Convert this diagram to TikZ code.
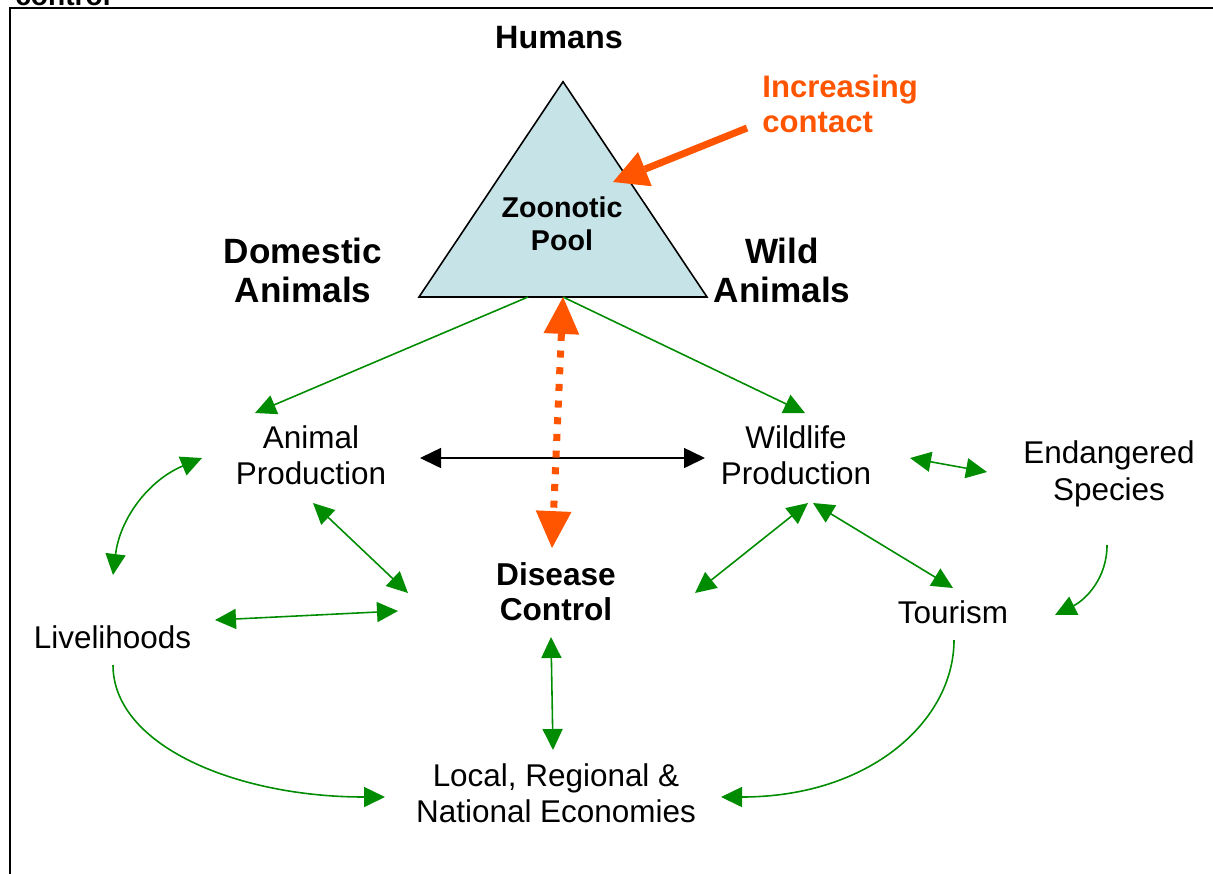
\documentclass[tikz,border=0pt]{standalone}
\usepackage{fontspec}
\setmainfont{Liberation Sans}
\usepackage{tikz}
\usetikzlibrary{arrows.meta}
\definecolor{leafgreen}{RGB}{0, 140, 0}
\definecolor{contactorange}{RGB}{255, 85, 0}
\definecolor{poolblue}{RGB}{198, 228, 232}

\begin{document}
\begin{tikzpicture}[x=0.02cm, y=-0.02cm,
        >={Triangle[length=0.42cm, width=0.40cm]},
        txtnode/.style={align=center, inner sep=0pt, font=\fontsize{17.9}{21}\selectfont},
        headnode/.style={align=center, inner sep=0pt, font=\bfseries\fontsize{20}{22.7}\selectfont},
        link/.style={draw=leafgreen, line width=0.9pt},
        bigtip/.style={line width=4pt, draw=contactorange}]
    \useasboundingbox (0,0) rectangle (1213,873);
    % frame and the cut caption above it
    \draw[line width=1.1pt] (10,880) -- (10,8) -- (1220,8);
    \node[anchor=base west, inner sep=0pt, font=\bfseries\fontsize{16}{19}\selectfont] (cap) at (15,5) {control};

    % zoonotic pool
    \coordinate (apex) at (563,81.7);
    \coordinate (bl)   at (419,297);
    \coordinate (br)   at (707,297);
    \coordinate (tri-a) at (528,297);
    \coordinate (tri-b) at (563,297);
    \filldraw[fill=poolblue, draw=black, line width=0.9pt] (apex) -- (bl) -- (br) -- cycle;
    \node[align=center, inner sep=0pt, font=\bfseries\fontsize{16.3}{19.3}\selectfont] (pool) at (562,223.8) {Zoonotic\\Pool};

    \node[anchor=base, inner sep=0pt, font=\bfseries\fontsize{18.4}{22}\selectfont] (hum) at (559,48) {Humans};
    \node[headnode] (dom)  at (303,270.4) {Domestic\\Animals};
    \node[headnode] (wild) at (782,270.4) {Wild\\Animals};
    \node[anchor=west, align=left, inner sep=0pt, text=contactorange,
          font=\bfseries\fontsize{17.7}{20.4}\selectfont] (inc) at (762,103.8) {Increasing\\contact};

    % production and economy nodes
    \node[txtnode] (ap)   at (311,455.2)  {Animal\\Production};
    \node[txtnode] (wp)   at (796,455.2)  {Wildlife\\Production};
    \node[txtnode] (es)   at (1109,473.5) {Endangered\\Species};
    \node[txtnode, anchor=base] (tour) at (953,623)   {Tourism};
    \node[txtnode, anchor=base] (liv)  at (112.5,648) {Livelihoods};
    \node[txtnode] (econ) at (556,793.2)  {Local, Regional \&\\National Economies};
    \node[align=center, inner sep=0pt, font=\bfseries\fontsize{18}{20.4}\selectfont] (dc) at (556,591.7) {Disease\\Control};

    % green links
    \draw[link, ->] (tri-a) -- ([shift={(-56,-42.2)}]ap.center);
    \draw[link, ->] (tri-b) -- ([shift={(9,-42.2)}]wp.center);
    \draw[link, <->] ([shift={(-109,2.8)}]ap.center) .. controls +(-53,22) and +(7,-57) .. ([shift={(0.5,-73)}]liv.base);
    \draw[link, <->] ([shift={(2,47.8)}]ap.center) -- ([shift={(-148,1.3)}]dc.center);
    \draw[link, <->] ([shift={(102.5,-28)}]liv.base) -- ([shift={(-158,19.3)}]dc.center);
    \draw[link, <->] ([shift={(12,47.8)}]wp.center) -- ([shift={(139,1.3)}]dc.center);
    \draw[link, <->] ([shift={(17,47.8)}]wp.center) -- ([shift={(0,-35)}]tour.base);
    \draw[link, <->] ([shift={(114,2.8)}]wp.center) -- ([shift={(-122,-1.5)}]es.center);
    \draw[link, ->] ([shift={(-2,71.5)}]es.center) .. controls +(0,34) and +(30,-15) .. ([shift={(102,-8)}]tour.base);
    \draw[link, <->] ([shift={(-5,45.3)}]dc.center) -- ([shift={(-3,-43.2)}]econ.center);
    \draw[link, ->] ([shift={(0.5,17)}]liv.base) .. controls +(0,80) and +(-150,0) .. ([shift={(-171,3.8)}]econ.center);
    \draw[link, ->] ([shift={(1,17)}]tour.base) .. controls +(0,80) and +(150,0) .. ([shift={(165,3.8)}]econ.center);

    \draw[line width=0.9pt, <->] ([shift={(109,2.8)}]ap.center) -- ([shift={(-91,2.8)}]wp.center);

    % orange arrows
    \draw[bigtip, dash pattern=on 4pt off 5.5pt,
          {Triangle[length=21pt, width=20.4pt, line width=0pt]}-{Triangle[length=21pt, width=20.4pt, line width=0pt]}]
          (tri-b) -- ([shift={(-4,-43.7)}]dc.center);
    \draw[bigtip, -{Triangle[length=19.6pt, width=21pt, line width=0pt]}]
          ([shift={(-15,24.2)}]inc.west) -- ([shift={(51,-41.8)}]pool.center);
\end{tikzpicture}
\end{document}
